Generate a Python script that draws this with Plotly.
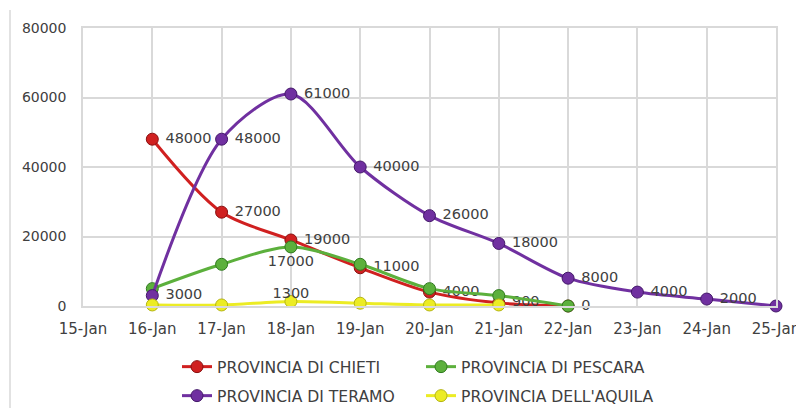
import plotly.graph_objects as go

# ---- data ----
dates = ["2017-01-16", "2017-01-17", "2017-01-18", "2017-01-19", "2017-01-20",
         "2017-01-21", "2017-01-22", "2017-01-23", "2017-01-24", "2017-01-25"]

chieti = [48000, 27000, 19000, 11000, 4000, 900, 0]
chieti_labels = ["48000", "27000", "19000", "11000", "4000", "900", "0"]

pescara = [5000, 12000, 17000, 12000, 5000, 3000, 0]
pescara_labels = ["", "", "17000", "", "", "", ""]

teramo = [3000, 48000, 61000, 40000, 26000, 18000, 8000, 4000, 2000, 0]
teramo_labels = ["3000", "48000", "61000", "40000", "26000", "18000", "8000", "4000", "2000", ""]

aquila = [300, 300, 1300, 800, 300, 300]
aquila_labels = ["", "", "1300", "", "", ""]

series_names = ["PROVINCIA DI CHIETI", "PROVINCIA DI PESCARA",
                "PROVINCIA DI TERAMO", "PROVINCIA DELL'AQUILA"]

FONT = "DejaVu Sans"
TXT = "#404040"
NB = "\u00a0"
LBLFONT = dict(family=FONT, size=14.5, color=TXT)

def pad(lbls, pos):
    if pos == "middle right":
        return [(NB + l) if l else "" for l in lbls]
    return lbls

fig = go.Figure()
specs = [
    (chieti, chieti_labels, series_names[0], "#d02020", "#8a0f0f", "middle right", "legend", True),
    (pescara, pescara_labels, series_names[1], "#5cb03c", "#2f7a1e", "bottom center", "legend", True),
    (teramo, teramo_labels, series_names[2], "#7030a0", "#44186a", "middle right", "legend2", True),
    (aquila, aquila_labels, series_names[3], "#ecec24", "#b5b512", "top center", "legend2", False),
]
for vals, lbls, name, col, dark, pos, lg, inline in specs:
    xs = dates[:len(vals)]
    fig.add_trace(go.Scatter(
        x=xs, y=vals, name=name,
        mode="lines+markers+text" if inline else "lines+markers",
        text=pad(lbls, pos) if inline else None, textposition=pos,
        textfont=LBLFONT,
        line=dict(color=col, width=3, shape="spline", smoothing=0.85),
        marker=dict(size=12, color=col, line=dict(color=dark, width=1)),
        legend=lg, cliponaxis=False,
    ))
    if not inline:
        # labels sitting close above the points
        fig.add_trace(go.Scatter(
            x=xs, y=vals, mode="text", text=lbls, textposition=pos,
            textfont=LBLFONT, showlegend=False, hoverinfo="skip", cliponaxis=False,
        ))

# page body has an 8px default margin; the figure sits at (8, 8)
OFF = 8
W, H = 796, 400
L, R, T, B = 75, 28, 20, 102
pw, ph = W - L - R, H - T - B

def px_x(x):  # screen px -> paper
    return (x - OFF - L) / pw

def px_y(y):
    return (H - B - (y - OFF)) / ph

grid = "#d9d9d9"
LEGFONT = dict(family=FONT, size=15.6, color=TXT)
fig.update_layout(
    width=W, height=H,
    margin=dict(l=L, r=R, t=T, b=B, autoexpand=False),
    paper_bgcolor="white", plot_bgcolor="white",
    font=dict(family=FONT, size=15, color=TXT),
    legend=dict(orientation="h", x=px_x(177), xanchor="left", y=px_y(367), yanchor="middle",
                entrywidth=199, entrywidthmode="pixels", font=LEGFONT,
                bgcolor="rgba(0,0,0,0)"),
    legend2=dict(orientation="h", x=px_x(177), xanchor="left", y=px_y(396), yanchor="middle",
                 entrywidth=199, entrywidthmode="pixels", font=LEGFONT,
                 bgcolor="rgba(0,0,0,0)"),
    xaxis=dict(type="date", range=["2017-01-15", "2017-01-25"], dtick=86400000,
               tick0="2017-01-15", tickformat="%-d-%b", showgrid=True, gridcolor=grid,
               gridwidth=1.5, showline=True, mirror=True, linecolor=grid, linewidth=1.5,
               ticks="", ticklabelstandoff=8, zeroline=False,
               tickfont=dict(family=FONT, size=15, color=TXT)),
    yaxis=dict(range=[0, 80000], dtick=20000, tickformat="d", showgrid=True, gridcolor=grid,
               gridwidth=1.5, showline=True, mirror=True, linecolor=grid, linewidth=1.5,
               zeroline=False, ticks="", ticklabelstandoff=12,
               tickfont=dict(family=FONT, size=14, color=TXT)),
    shapes=[dict(type="line", xref="paper", yref="paper",
                 x0=px_x(10), x1=px_x(10), y0=px_y(10), y1=px_y(408),
                 line=dict(color="#d9d9d9", width=1.5))],
)

fig.write_html("out.html")
